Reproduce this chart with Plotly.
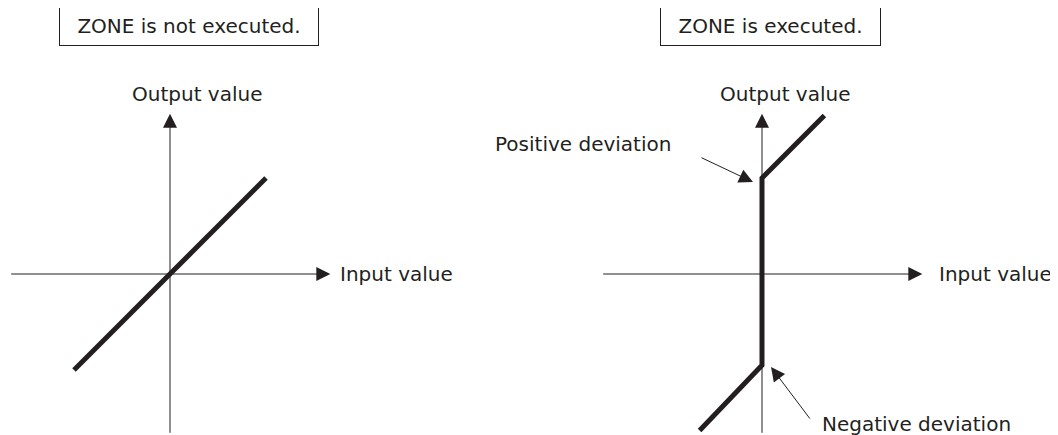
import plotly.graph_objects as go

# input -> output characteristic, normalised units (1.0 = one deviation)
plain_in = [-1.0, 1.0]
plain_out = [-1.0, 1.0]

zone_in = [-0.65, 0.0, 0.0, 0.65]
zone_out = [-1.63, -0.95, 1.0, 1.65]

titles = ["ZONE is not executed.", "ZONE is executed."]
x_label = "Input value"
y_label = "Output value"
pos_label = "Positive deviation"
neg_label = "Negative deviation"

INK = "#231f20"
FONT = "DejaVu Sans, Liberation Sans, sans-serif"
# page body has an 8px margin, so the figure is a bit smaller and shifted
W, H = 1050, 427
PX = 96.0          # pixels per unit
AX = 1.67          # half length of the drawn axes
ORIG_Y = 266       # pixel row of both origins
ORIG_X = [162, 754]

fig = go.Figure()
fig.add_trace(go.Scatter(x=plain_in, y=plain_out, mode="lines", xaxis="x", yaxis="y",
                         line=dict(color=INK, width=5), hoverinfo="skip"))
fig.add_trace(go.Scatter(x=zone_in, y=zone_out, mode="lines", xaxis="x2", yaxis="y2",
                         line=dict(color=INK, width=5), hoverinfo="skip"))

ann = []
box_w = [256, 217]
box_dx = [0.198, 0.089]
for i, (xr, yr) in enumerate([("x", "y"), ("x2", "y2")]):
    arrow = dict(xref=xr, yref=yr, axref=xr, ayref=yr, text="", showarrow=True,
                 arrowhead=2, arrowsize=2.8, arrowwidth=1, arrowcolor=INK,
                 standoff=0, startstandoff=0)
    ann.append(dict(arrow, x=AX, y=0, ax=-AX, ay=0))
    ann.append(dict(arrow, x=0, y=AX, ax=0, ay=-AX))
    ann.append(dict(xref=xr, yref=yr, x=box_dx[i], y=2.583, text=titles[i], showarrow=False,
                    bordercolor=INK, borderwidth=1, borderpad=1, width=box_w[i], height=36,
                    font=dict(family=FONT, size=20, color=INK)))
    ann.append(dict(xref=xr, yref=yr, x=[0.276, 0.24][i], y=1.87, text=y_label, showarrow=False,
                    font=dict(family=FONT, size=20, color=INK)))
    ann.append(dict(xref=xr, yref=yr, x=[1.75, 1.823][i], y=0, text=x_label, showarrow=False,
                    xanchor="left", font=dict(family=FONT, size=20, color=INK)))

# deviation callouts on the right panel
dev_arrow = dict(xref="x2", yref="y2", axref="x2", ayref="y2", text="", showarrow=True,
                 arrowhead=2, arrowsize=2.8, arrowwidth=1, arrowcolor=INK,
                 standoff=0, startstandoff=0)
ann.append(dict(dev_arrow, x=-0.094, y=0.958, ax=-0.646, ay=1.219))
ann.append(dict(dev_arrow, x=0.094, y=-0.969, ax=0.51, ay=-1.521))
ann.append(dict(xref="x2", yref="y2", x=-0.927, y=1.354, text=pos_label, showarrow=False,
                xanchor="right", font=dict(family=FONT, size=20, color=INK)))
ann.append(dict(xref="x2", yref="y2", x=0.604, y=-1.5625, text=neg_label, showarrow=False,
                xanchor="left", font=dict(family=FONT, size=20, color=INK)))

half = W / 2
hidden = dict(showgrid=False, zeroline=False, showticklabels=False, showline=False,
              ticks="", fixedrange=True)
yr = [-(H - ORIG_Y) / PX, ORIG_Y / PX]
fig.update_layout(
    width=W, height=H, margin=dict(l=0, r=0, t=0, b=0),
    paper_bgcolor="white", plot_bgcolor="white", showlegend=False,
    xaxis=dict(hidden, domain=[0, 0.5], range=[-ORIG_X[0] / PX, (half - ORIG_X[0]) / PX]),
    xaxis2=dict(hidden, domain=[0.5, 1], anchor="y2",
                range=[-(ORIG_X[1] - half) / PX, (W - ORIG_X[1]) / PX]),
    yaxis=dict(hidden, domain=[0, 1], range=yr),
    yaxis2=dict(hidden, domain=[0, 1], anchor="x2", range=yr),
    annotations=ann,
)

fig.write_html("out.html")
